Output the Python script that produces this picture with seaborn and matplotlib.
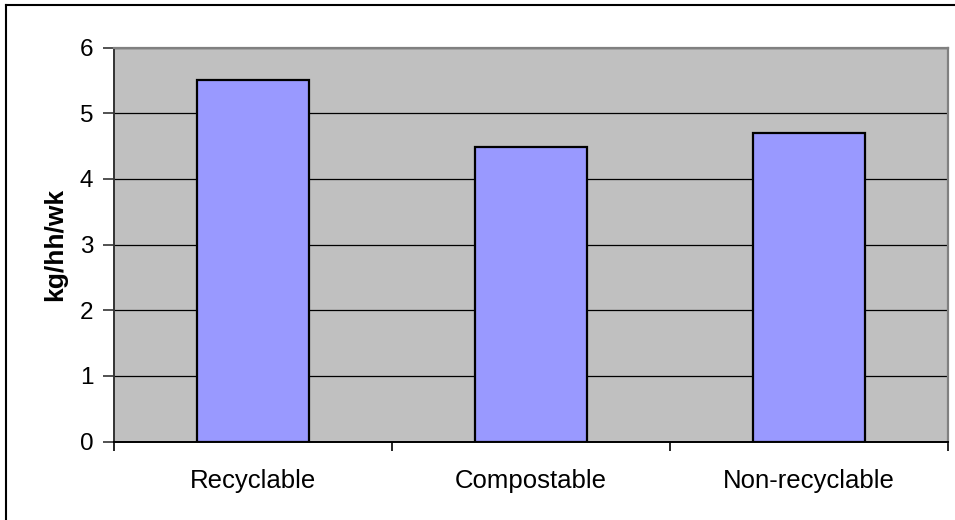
import matplotlib
matplotlib.use("Agg")
import matplotlib.pyplot as plt
from matplotlib.lines import Line2D
import seaborn as sns
import pandas as pd

categories = ["Recyclable", "Compostable", "Non-recyclable"]
values = [5.5, 4.48, 4.7]
y_ticks = [0, 1, 2, 3, 4, 5, 6]
y_label = "kg/hh/wk"

plt.rcParams["font.family"] = ["Liberation Sans", "DejaVu Sans"]

df = pd.DataFrame({"category": categories, "value": values})

fig = plt.figure(figsize=(9.55, 5.2), dpi=100)
ax = fig.add_axes([114 / 955, 1 - 441.7 / 520, (948 - 114) / 955, (441.7 - 47.5) / 520])
ax.set_facecolor("#C0C0C0")

sns.barplot(data=df, x="category", y="value", color="#9999FF", width=0.4,
            edgecolor="black", linewidth=1.6, saturation=1, ax=ax, zorder=3)

ax.set_xlim(-0.5, len(categories) - 0.5)
ax.set_ylim(0, 6)
ax.set_yticks(y_ticks)
ax.set_yticklabels([str(t) for t in y_ticks], fontsize=17.5)
ax.yaxis.grid(True, color="black", linewidth=0.9, zorder=1)
ax.set_axisbelow(True)

# category labels centred, tick marks on category boundaries
ax.set_xticks(range(len(categories)))
ax.set_xticklabels(categories, fontsize=18.5)
ax.tick_params(axis="x", which="major", length=0, pad=20)
ax.set_xticks([i - 0.5 for i in range(len(categories) + 1)], minor=True)
ax.tick_params(axis="x", which="minor", length=6.5, width=1.2, direction="out", color="black")
ax.tick_params(axis="y", length=8, width=1.2, direction="out", pad=7, color="#333333")

ax.set_xlabel("")
ax.set_ylabel(y_label, fontsize=19, fontweight="bold", labelpad=9)

for side in ["top", "right"]:
    ax.spines[side].set_color("#808080")
    ax.spines[side].set_linewidth(1.6)
ax.spines["left"].set_color("#333333")
ax.spines["left"].set_linewidth(1.4)
ax.spines["bottom"].set_color("black")
ax.spines["bottom"].set_linewidth(1.4)

# chart-area frame
fig.add_artist(Line2D([6 / 955, 1], [1 - 5 / 520, 1 - 5 / 520], color="black", linewidth=1.5,
                      transform=fig.transFigure))
fig.add_artist(Line2D([6 / 955, 6 / 955], [0, 1 - 5 / 520], color="black", linewidth=1.5,
                      transform=fig.transFigure))

fig.savefig("out.png", dpi=100)
